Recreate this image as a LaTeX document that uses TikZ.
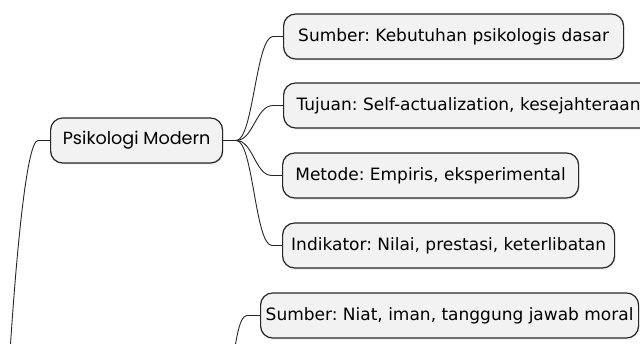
\documentclass[tikz,border=0pt]{standalone}
\usepackage{fontspec}
\setmainfont{DejaVu Sans}
\newfontfamily\topicfont{Poppins}
\usetikzlibrary{shadows}
\frenchspacing

\begin{document}
\begin{tikzpicture}[x=1pt, y=-1pt,
		topic/.style={draw=black!85, line width=1.2pt, fill=black!5, rounded corners=12pt, minimum height=45pt, inner sep=0pt, anchor=west, font=\fontsize{17}{20}\selectfont, drop shadow={opacity=0.12, shadow xshift=1pt, shadow yshift=-2pt}},
		branch/.style={draw=black!85, line width=0.9pt}]
			%%%%% START %%%%%
			\useasboundingbox (0,0) rectangle (640,344);
			\clip (0,0) rectangle (640,344);
			
			\node[topic, minimum width=172pt, font=\topicfont\fontsize{17.6}{20}\selectfont] (psikologi) at (50, 140.5) {Psikologi Modern};
			
			\node[topic, minimum width=340pt] (sumberA) at (283, 36.5) {Sumber: Kebutuhan psikologis dasar};
			\node[topic, minimum width=370pt] (tujuan) at (283, 105.5) {Tujuan: Self-actualization, kesejahteraan};
			\node[topic, minimum width=296pt] (metode) at (282, 175.5) {Metode: Empiris, eksperimental};
			\node[topic, minimum width=332pt] (indikator) at (282, 245.5) {Indikator: Nilai, prestasi, keterlibatan};
			
			\node[topic, minimum width=378pt] (sumberB) at (260, 315.5) {Sumber: Niat, iman, tanggung jawab moral};
			
			% branches of Psikologi Modern
			\foreach \child in {sumberA, tujuan, metode, indikator}
				\draw[branch] (psikologi.east) -- ++(13,0) .. controls +(17,0) and +(-17,0) .. ([xshift=-10pt]\child.west) -- (\child.west);
			
			% lines running off the page
			\coordinate (root) at (6, 420);
			\draw[branch] (psikologi.west) -- ++(-12,0) .. controls +(-12,0) and +(8,-150) .. (root);
			
			\coordinate (islam) at (215, 440);
			\draw[branch] (sumberB.west) -- ++(-13,0) .. controls +(-17,0) and +(17,0) .. (islam);
			%%%%% END %%%%%
		\end{tikzpicture}
\end{document}
